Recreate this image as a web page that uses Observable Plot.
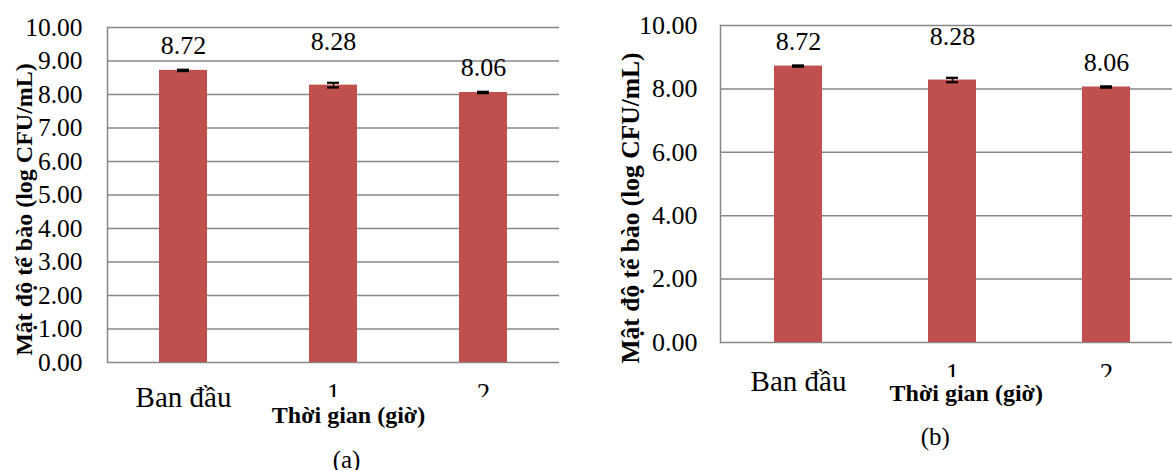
<!DOCTYPE html>
<html>
<head>
<meta charset="utf-8">
<script src="https://cdn.jsdelivr.net/npm/d3@7"></script>
<script src="https://cdn.jsdelivr.net/npm/@observablehq/plot@0.6"></script>
<style>
  html, body { margin: 0; padding: 0; background: #fff; overflow: hidden; }
  #page { position: relative; width: 1172px; height: 470px; overflow: hidden; }
  .panel { position: absolute; top: 0; }
  .panel svg { max-width: none !important; display: block; }
</style>
</head>
<body>
<div id="page"></div>
<script>
// Cell density over time, two experiments (a) and (b)
const categories = ["Ban đầu", "1", "2"];
const meanA = [8.72, 8.28, 8.06];
const errA = [0.02, 0.07, 0.02];
const meanB = [8.72, 8.28, 8.06];
const errB = [0.02, 0.07, 0.02];
const ticksA = [0, 1, 2, 3, 4, 5, 6, 7, 8, 9, 10];
const ticksB = [0, 2, 4, 6, 8, 10];
const xTitle = "Thời gian (giờ)";
const yTitle = "Mật độ tế bào (log CFU/mL)";

const BAR = "#C0504D";
const GRID = "#878787";
const FONT = "Liberation Serif, Times New Roman, serif";
const labelLift = [16, 35, 16]; // value-label offset above each bar, px

function panel(o) {
  const rows = categories.map((c, i) => ({cat: c, mean: o.means[i], err: o.errs[i], i}));
  const plotBottom = o.height - o.margin.bottom;
  const fmt = d3.format(".2f");
  const txt = {fontFamily: FONT, fill: "#000"};

  const svg = Plot.plot({
    width: o.width,
    height: o.height,
    marginTop: o.margin.top,
    marginBottom: o.margin.bottom,
    marginLeft: o.margin.left,
    marginRight: o.margin.right,
    style: {fontFamily: FONT, background: "transparent", color: "#000", maxWidth: "none", overflow: "visible"},
    x: {type: "band", domain: categories, paddingInner: o.pad, paddingOuter: o.pad / 2, axis: null},
    y: {domain: [0, 10], axis: null},
    marks: [
      Plot.gridY(o.ticks, {stroke: GRID, strokeOpacity: 1, strokeWidth: 1.5}),
      Plot.frame({anchor: "left", stroke: GRID, strokeWidth: 1.5}),
      Plot.axisY(o.ticks, {
        ...txt, tickSize: 0, tickPadding: o.tickPad, tickFormat: fmt,
        fontSize: o.tickFont, fontVariant: "normal", label: null
      }),
      Plot.barY(rows, {x: "cat", y: "mean", fill: BAR}),
      Plot.ruleX(rows, {x: "cat", y1: d => d.mean - d.err, y2: d => d.mean + d.err, stroke: "#000", strokeWidth: 1.5}),
      Plot.tickY(rows, {x: "cat", y: d => d.mean - d.err, stroke: "#000", strokeWidth: 2.2, insetLeft: 18, insetRight: 18}),
      Plot.tickY(rows, {x: "cat", y: d => d.mean + d.err, stroke: "#000", strokeWidth: 2.2, insetLeft: 18, insetRight: 18}),
      ...rows.map(r => Plot.text([r], {
        ...txt, x: "cat", y: "mean", text: d => fmt(d.mean), lineAnchor: "bottom",
        dy: -labelLift[r.i], fontSize: o.valueFont
      })),
      Plot.text(rows.slice(0, 1), {
        ...txt, x: "cat", text: "cat", frameAnchor: "bottom", lineAnchor: "bottom",
        dy: o.firstDy, fontSize: o.catFont
      }),
      Plot.text(rows.slice(1), {
        ...txt, x: "cat", text: "cat", frameAnchor: "bottom", lineAnchor: "bottom",
        dy: o.hourDy, fontSize: o.hourFont, ariaDescription: "hour labels"
      }),
      Plot.text([xTitle], {
        ...txt, text: d => d, frameAnchor: "bottom", lineAnchor: "bottom",
        dx: o.xTitleDx, dy: o.xTitleDy, fontWeight: "bold", fontSize: o.titleFont
      }),
      Plot.text([yTitle], {
        ...txt, text: d => d, frameAnchor: "left", lineAnchor: "middle", textAnchor: "middle",
        rotate: -90, dx: o.yTitleDx, dy: o.yTitleDy, fontWeight: "bold", fontSize: o.yTitleFont
      }),
      Plot.text([o.caption], {
        ...txt, text: d => d, frameAnchor: "bottom", lineAnchor: "bottom",
        dx: o.capDx, dy: o.capDy, fontSize: o.capFont
      })
    ]
  });

  // the hour labels sit partly beneath the axis title and are cut off there
  const ns = "http://www.w3.org/2000/svg";
  const clipId = o.id + "-clip";
  const defs = document.createElementNS(ns, "defs");
  const clip = document.createElementNS(ns, "clipPath");
  clip.setAttribute("id", clipId);
  clip.setAttribute("clipPathUnits", "userSpaceOnUse");
  const rect = document.createElementNS(ns, "rect");
  rect.setAttribute("x", 0);
  rect.setAttribute("y", 0);
  rect.setAttribute("width", o.width);
  rect.setAttribute("height", plotBottom + o.clipBelow);
  clip.appendChild(rect);
  defs.appendChild(clip);
  svg.insertBefore(defs, svg.firstChild);
  let hours = svg.querySelector('g[aria-description="hour labels"]');
  if (!hours) {
    const hourSet = categories.slice(1).join("|");
    hours = [...svg.querySelectorAll("g")].find(g => {
      const t = [...g.querySelectorAll(":scope > text")].map(n => n.textContent);
      return t.length && t.join("|") === hourSet;
    });
  }
  if (hours) {
    const wrap = document.createElementNS(ns, "g");
    wrap.setAttribute("clip-path", `url(#${clipId})`);
    hours.parentNode.insertBefore(wrap, hours);
    wrap.appendChild(hours);
  }

  const div = document.createElement("div");
  div.className = "panel";
  div.style.left = o.left + "px";
  div.style.width = o.width + "px";
  div.appendChild(svg);
  document.getElementById("page").appendChild(div);
}

panel({
  id: "a", left: 0, width: 560, height: 470,
  margin: {top: 27, bottom: 108, left: 107, right: 1},
  means: meanA, errs: errA, ticks: ticksA, pad: 0.68,
  tickPad: 25, tickFont: 25.5, valueFont: 26, catFont: 29, hourFont: 27,
  firstDy: 44, hourDy: 39, clipBelow: 35,
  titleFont: 24, xTitleDx: 15, xTitleDy: 60,
  yTitleFont: 24, yTitleDx: -83, yTitleDy: 14.5,
  caption: "(a)", capFont: 25, capDx: 13, capDy: 105
});

panel({
  id: "b", left: 580, width: 620, height: 470,
  margin: {top: 25, bottom: 128, left: 140, right: 16.5},
  means: meanB, errs: errB, ticks: ticksB, pad: 0.69,
  tickPad: 23, tickFont: 26, valueFont: 26, catFont: 29, hourFont: 27,
  firstDy: 48, hourDy: 39, clipBelow: 35,
  titleFont: 24, xTitleDx: 14, xTitleDy: 58,
  yTitleFont: 25.5, yTitleDx: -90, yTitleDy: 24,
  caption: "(b)", capFont: 25, capDx: -17, capDy: 102
});
</script>
</body>
</html>
